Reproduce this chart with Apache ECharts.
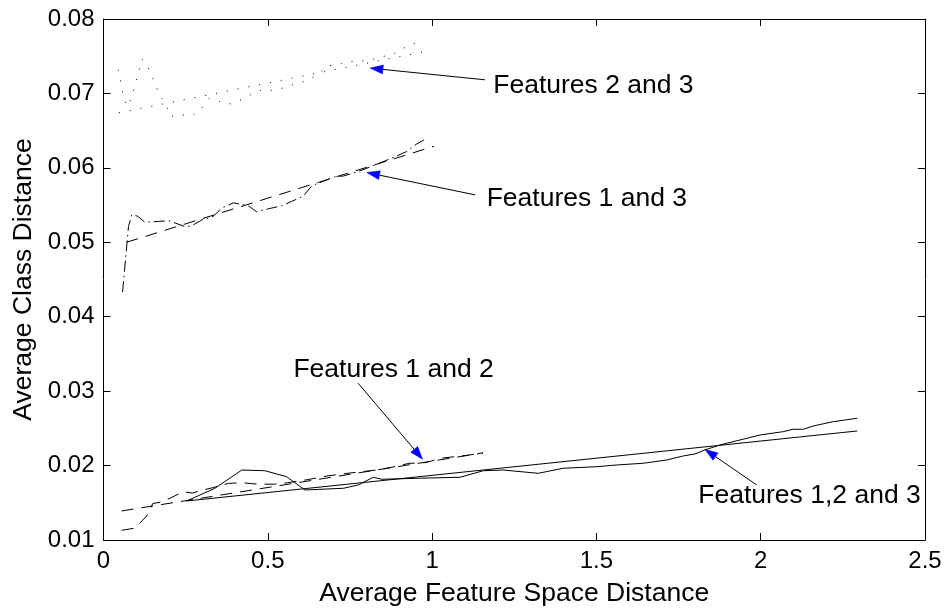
<!DOCTYPE html>
<html><head><meta charset="utf-8">
<script src="https://cdn.jsdelivr.net/npm/echarts@6/dist/echarts.min.js"></script>
<style>html,body{margin:0;padding:0;background:#fff}#c{width:945px;height:610px}</style>
</head><body><div id="c"></div>
<script>
// ---- data ----
const xTicks = [0, 0.5, 1, 1.5, 2, 2.5];
const yTicks = [0.01, 0.02, 0.03, 0.04, 0.05, 0.06, 0.07, 0.08];

// Features 2 and 3 (dotted)
const f23Curve = [[0.045,0.0732],[0.052,0.0716],[0.059,0.0700],[0.068,0.0685],[0.076,0.0683],[0.089,0.0700],[0.098,0.0715],[0.108,0.0730],[0.117,0.0746],[0.128,0.0742],[0.144,0.0727],[0.158,0.0712],[0.171,0.0697],[0.187,0.0688],[0.203,0.0669],[0.237,0.0671],[0.270,0.0670],[0.299,0.0680],[0.321,0.0693],[0.354,0.0689],[0.387,0.0686],[0.421,0.0692],[0.451,0.0699],[0.484,0.0705],[0.517,0.0704],[0.551,0.0708],[0.585,0.0713],[0.619,0.0717],[0.655,0.0726],[0.678,0.0737],[0.707,0.0738],[0.741,0.0742],[0.775,0.0744],[0.808,0.0744],[0.842,0.0749],[0.880,0.0752],[0.909,0.0760],[0.942,0.0767],[0.975,0.0769]];
const f23Fit = [[0.047,0.0674],[0.976,0.0756]];

// Features 1 and 3 (dash-dot curve, dashed fit)
const f13Curve = [[0.058,0.0433],[0.076,0.0521],[0.086,0.0537],[0.104,0.0535],[0.126,0.0527],[0.167,0.0528],[0.199,0.0529],[0.248,0.0521],[0.268,0.0522],[0.299,0.0530],[0.334,0.0535],[0.360,0.0546],[0.395,0.0553],[0.441,0.0549],[0.466,0.0541],[0.502,0.0545],[0.542,0.0549],[0.573,0.0555],[0.608,0.0562],[0.634,0.0576],[0.669,0.0582],[0.704,0.0588],[0.730,0.0589],[0.775,0.0595],[0.816,0.0602],[0.877,0.0613],[0.923,0.0622],[0.953,0.0632],[0.985,0.0640]];
const f13Fit = [[0.070,0.0500],[1.006,0.0629]];

// Features 1 and 2 (dashed)
const f12Curve = [[0.055,0.0113],[0.096,0.0116],[0.131,0.0132],[0.150,0.0149],[0.175,0.0151],[0.202,0.0156],[0.243,0.0165],[0.270,0.0163],[0.300,0.0167],[0.330,0.0170],[0.380,0.0176],[0.420,0.0177],[0.470,0.0175],[0.520,0.0175],[0.560,0.0177],[0.620,0.0181],[0.680,0.0186],[0.750,0.0190],[0.790,0.0192],[0.830,0.0194],[0.870,0.0197],[0.930,0.0203],[0.980,0.0204],[1.030,0.0210],[1.070,0.0212],[1.110,0.0214],[1.155,0.0217]];
const f12Fit = [[0.055,0.0139],[1.155,0.0217]];

// Features 1,2 and 3 (solid)
const f123Curve = [[0.253,0.01524],[0.339,0.01695],[0.421,0.0194],[0.491,0.01931],[0.557,0.01851],[0.613,0.01672],[0.730,0.01695],[0.775,0.01739],[0.821,0.01843],[0.847,0.01816],[0.960,0.01830],[1.085,0.01843],[1.156,0.01931],[1.217,0.0194],[1.323,0.01896],[1.399,0.01964],[1.501,0.01985],[1.562,0.02008],[1.643,0.02031],[1.714,0.02075],[1.764,0.02129],[1.800,0.02156],[1.830,0.0221],[1.876,0.02277],[1.937,0.02344],[1.998,0.02411],[2.069,0.02456],[2.099,0.02488],[2.130,0.02488],[2.160,0.02532],[2.221,0.0259],[2.294,0.02636]];
const f123Fit = [[0.253,0.01524],[2.294,0.02465]];

// annotations (data coordinates)
const annLabels = ['Features 2 and 3', 'Features 1 and 3', 'Features 1 and 2', 'Features 1,2 and 3'];
const annTextPos = [[1.186,0.07110],[1.166,0.05590],[0.578,0.03285],[1.810,0.01600]];
const annTail = [[1.161,0.07183],[1.131,0.05637],[0.775,0.03106],[1.988,0.01739]];
const annTip = [[0.811,0.0734],[0.801,0.05937],[0.971,0.02085],[1.830,0.02219]];

// ---- chart ----
const FONT = 'Liberation Sans, Arial, sans-serif';
const TICK = 24;
const LABEL = 26.5;
const chart = echarts.init(document.getElementById('c'), null, {renderer: 'canvas'});

function lineSeries(data, type) {
  return {
    type: 'line', data: data, showSymbol: false, symbol: 'none', animation: false,
    silent: true, clip: false,
    lineStyle: {color: '#000', width: 1, type: type, cap: 'butt'}
  };
}
const DOT = [1, 10], DASH = [12, 8], DASHDOT = [11, 4, 1.5, 4];

const axisCommonX = {
  type: 'value', min: xTicks[0], max: xTicks[xTicks.length - 1], interval: 0.5,
  splitLine: {show: false},
  axisLine: {show: true, onZero: false, lineStyle: {color: '#000', width: 1}},
  axisTick: {show: true, inside: true, length: 7, lineStyle: {color: '#000', width: 1}}
};
const axisCommonY = {
  type: 'value', min: yTicks[0], max: yTicks[yTicks.length - 1], interval: 0.01,
  splitLine: {show: false},
  axisLine: {show: true, onZero: false, lineStyle: {color: '#000', width: 1}},
  axisTick: {show: true, inside: true, length: 7, lineStyle: {color: '#000', width: 1}}
};

chart.setOption({
  animation: false,
  backgroundColor: '#fff',
  grid: {left: 103.5, right: 20, top: 19, bottom: 70, containLabel: false, outerBoundsMode: 'none'},
  xAxis: [
    Object.assign({}, axisCommonX, {
      position: 'bottom',
      axisLabel: {color: '#000', fontSize: TICK, fontFamily: FONT, margin: 9,
        formatter: v => String(Math.round(v * 10) / 10)},
      name: 'Average Feature Space Distance', nameLocation: 'middle', nameGap: 40,
      nameTextStyle: {color: '#000', fontSize: LABEL, fontFamily: FONT}
    }),
    Object.assign({}, axisCommonX, {position: 'top', axisLabel: {show: false}})
  ],
  yAxis: [
    Object.assign({}, axisCommonY, {
      position: 'left',
      axisLabel: {color: '#000', fontSize: TICK, fontFamily: FONT, margin: 9,
        formatter: v => v.toFixed(2)},
      name: 'Average Class Distance', nameLocation: 'middle', nameGap: 51,
      nameTextStyle: {color: '#000', fontSize: LABEL, fontFamily: FONT}
    }),
    Object.assign({}, axisCommonY, {position: 'right', axisLabel: {show: false}})
  ],
  series: [
    lineSeries(f23Curve, DOT), lineSeries(f23Fit, DOT),
    lineSeries(f13Curve, DASHDOT), lineSeries(f13Fit, DASH),
    lineSeries(f12Curve, DASH), lineSeries(f12Fit, DASH),
    lineSeries(f123Curve, 'solid'), lineSeries(f123Fit, 'solid')
  ]
});

// annotations: arrows and labels via the grid's coordinate conversion
const graphics = [];
for (let i = 0; i < annLabels.length; i++) {
  const tail = chart.convertToPixel({gridIndex: 0}, annTail[i]);
  const tip = chart.convertToPixel({gridIndex: 0}, annTip[i]);
  const tp = chart.convertToPixel({gridIndex: 0}, annTextPos[i]);
  const dx = tip[0] - tail[0], dy = tip[1] - tail[1];
  const len = Math.sqrt(dx * dx + dy * dy);
  const ux = dx / len, uy = dy / len;
  const L = 13, W = 9;
  const bx = tip[0] - ux * L, by = tip[1] - uy * L;
  const nx = -uy, ny = ux;
  graphics.push({
    type: 'line', silent: true,
    shape: {x1: tail[0], y1: tail[1], x2: bx, y2: by},
    style: {stroke: '#000', lineWidth: 1}
  });
  graphics.push({
    type: 'polygon', silent: true,
    shape: {points: [[tip[0], tip[1]], [bx + nx * W / 2, by + ny * W / 2], [bx - nx * W / 2, by - ny * W / 2]]},
    style: {fill: '#0000ff', stroke: '#0000ff', lineWidth: 0.5}
  });
  graphics.push({
    type: 'text', silent: true,
    style: {text: annLabels[i], x: tp[0], y: tp[1], fill: '#000',
      font: LABEL + 'px ' + FONT, textAlign: 'left', textVerticalAlign: 'middle',
      align: 'left', verticalAlign: 'middle'}
  });
}
chart.setOption({graphic: {elements: graphics}});
</script></body></html>
